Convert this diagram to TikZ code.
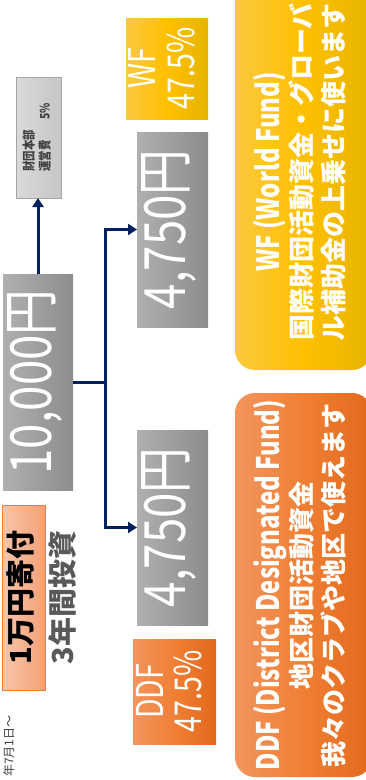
\documentclass[tikz,border=0pt]{standalone}
\usepackage{fontspec}
\usepackage{graphicx}
\setmainfont{Noto Sans CJK JP}
\newfontfamily\condfont[FakeStretch=0.8]{Noto Sans CJK JP}
\newfontfamily\narrowfont[FakeStretch=0.77]{Noto Sans CJK JP}
\usetikzlibrary{arrows.meta}
\definecolor{navy}{HTML}{002060}
\definecolor{grayL}{HTML}{B0B0B0}
\definecolor{grayR}{HTML}{8C8C8C}
\definecolor{paleL}{HTML}{DADADA}
\definecolor{paleR}{HTML}{C6C6C6}
\definecolor{paleline}{HTML}{A6A6A6}
\definecolor{goldL}{HTML}{FCC93F}
\definecolor{goldM}{HTML}{FFC000}
\definecolor{goldR}{HTML}{E6B400}
\definecolor{orangeL}{HTML}{F2955E}
\definecolor{orangeM}{HTML}{F07F34}
\definecolor{orangeR}{HTML}{E2691C}
\definecolor{salmonL}{HTML}{F9C5A8}
\definecolor{salmonR}{HTML}{F2A17A}
\definecolor{salmonline}{HTML}{ED7D31}
\definecolor{darktext}{HTML}{595959}
\definecolor{hqtext}{HTML}{404040}
\newcommand{\vtext}[2][c]{\rotatebox{90}{\begin{tabular}{@{}#1@{}}#2\end{tabular}}}
\newcommand{\fundtitle}[1]{{\narrowfont\fontsize{31}{32}\selectfont #1}}
\tikzset{
  every node/.style={
    inner sep=0pt,
    outer sep=0pt,
  },
  gold/.style={
    left color=goldL,
    right color=goldR,
    middle color=goldM,
  },
  orange/.style={
    left color=orangeL,
    right color=orangeR,
    middle color=orangeM,
  },
  amount box/.style={
    left color=grayL,
    right color=grayR,
    text=white,
    font=\condfont\fontsize{57}{57}\selectfont,
  },
  share box/.style={
    text=white,
    font=\narrowfont\fontsize{37}{36}\selectfont,
  },
  fund note/.style={
    rounded corners=20pt,
    text=white,
    font=\bfseries\fontsize{26}{32}\selectfont,
  },
  hq box/.style={
    draw=paleline,
    line width=0.6pt,
    left color=paleL,
    right color=paleR,
    text=hqtext,
    font=\condfont\bfseries\fontsize{13}{16}\selectfont,
  },
  gift box/.style={
    draw=salmonline,
    line width=0.8pt,
    left color=salmonL,
    right color=salmonR,
    font=\bfseries\fontsize{29}{29}\selectfont,
  },
  link/.style={
    draw=navy,
    line width=3pt,
  },
  flow/.style={
    link,
    -{Triangle[length=9pt,width=11pt]},
  },
}

\begin{document}
\begin{tikzpicture}[x=1pt, y=-1pt]
  \useasboundingbox (0,0) rectangle (366,780);
  % donation on the left
  \node[gift box, minimum width=43pt, minimum height=185pt] (gift) at (23.5,597.5) {\vtext{1万円寄付}};
  \node[text=darktext, font=\bfseries\fontsize{29}{29}\selectfont] (term) at (65,597.5) {\vtext{3年間投資}};
  \node[text=hqtext, font=\fontsize{12}{12}\selectfont] (since) at (10,746) {\vtext{年7月1日〜}};
  % total and the foundation's share
  \node[amount box, minimum width=70pt, minimum height=216pt] (ten) at (38,382) {\vtext{10,000円}};
  \node[hq box, minimum width=45pt, minimum height=121pt] (hq) at (38.5,137.5) {\vtext[l]{財団本部\\運営費\hspace{1.6em}5\%}};
  % the two halves
  \node[amount box, minimum width=71pt, minimum height=195pt] (wfamt) at (172.5,229.5) {\vtext{4,750円}};
  \node[amount box, minimum width=71pt, minimum height=195pt] (ddfamt) at (172.5,527.5) {\vtext{4,750円}};
  \node[share box, gold, minimum width=82pt, minimum height=101pt] (wfshare) at (167,68.5) {\vtext{WF\\47.5\%}};
  \node[share box, orange, minimum width=83pt, minimum height=105pt] (ddfshare) at (174.5,691.5) {\vtext{DDF\\47.5\%}};
  % notes
  \node[fund note, gold, minimum width=137pt, minimum height=396pt] (wfnote) at (303.5,172)
    {\vtext{\fundtitle{WF\,(World Fund)}\\国際財団活動資金・グローバ\\ル補助金の上乗せに使います}};
  \node[fund note, orange, minimum width=137pt, minimum height=384pt] (ddfnote) at (303.5,585)
    {\vtext{\fundtitle{DDF\,(District Designated Fund)}\\地区財団活動資金\\我々のクラブや地区で使えます}};
  % connectors
  \coordinate (split) at ([xshift=32pt]ten.east);
  \draw[flow] (ten.north) -- (ten.north |- hq.south);
  \draw[link] (ten.east) -- (split);
  \draw[flow] (split) |- (wfamt.west);
  \draw[flow] (split) |- (ddfamt.west);
\end{tikzpicture}
\end{document}
